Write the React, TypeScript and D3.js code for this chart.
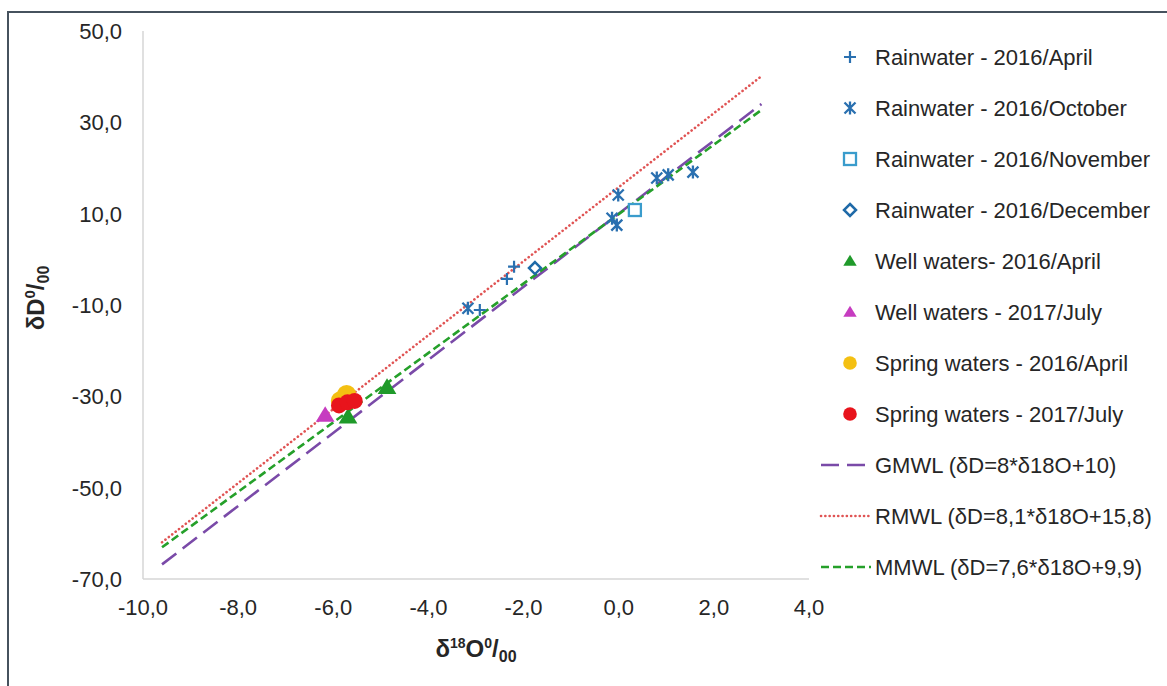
import React from "react";
import * as d3 from "d3";

// Isotope samples: [δ18O, δD] in per mil
const rainApril: [number, number][] = [[-2.92, -11.1], [-2.35, -4.3], [-2.2, -1.6]];
const rainOctober: [number, number][] = [
  [-3.17, -10.7], [-0.01, 14.1], [-0.14, 9.0], [-0.04, 7.5], [0.8, 17.8], [1.04, 18.5], [1.56, 19.1],
];
const rainNovember: [number, number][] = [[0.34, 10.8]];
const rainDecember: [number, number][] = [[-1.76, -1.9]];
const wellApril: [number, number][] = [[-4.87, -28.0], [-5.69, -34.5]];
const wellJuly: [number, number][] = [[-6.17, -34.1]];
const springApril: [number, number][] = [[-5.72, -29.6], [-5.85, -31.0]];
const springJuly: [number, number][] = [[-5.88, -32.0], [-5.7, -31.3], [-5.55, -31.0]];

// Meteoric water lines δD = a·δ18O + b, drawn over this δ18O span
const lineSpan = [-9.6, 3];
const gmwl = { a: 8, b: 10 };
const rmwl = { a: 8.1, b: 15.8 };
const mmwl = { a: 7.6, b: 9.9 };

const xTicks = [-10, -8, -6, -4, -2, 0, 2, 4];
const yTicks = [-70, -50, -30, -10, 10, 30, 50];

const legendLabels = [
  "Rainwater - 2016/April",
  "Rainwater - 2016/October",
  "Rainwater - 2016/November",
  "Rainwater - 2016/December",
  "Well waters- 2016/April",
  "Well waters - 2017/July",
  "Spring waters - 2016/April",
  "Spring waters - 2017/July",
  "GMWL (δD=8*δ18O+10)",
  "RMWL (δD=8,1*δ18O+15,8)",
  "MMWL (δD=7,6*δ18O+9,9)",
];

const W = 1167;
const H = 686;
const FONT = "'Liberation Sans', Arial, sans-serif";

const C = {
  rain: "#2a70b0",
  nov: "#3a9ccc",
  dec: "#1f6aa8",
  wellA: "#1f9a2a",
  wellJ: "#c63cc0",
  springA: "#f4c012",
  springJ: "#e8141c",
  gmwl: "#7a4aa8",
  rmwl: "#e05454",
  mmwl: "#25a02a",
  axis: "#d6d6d6",
  text: "#262626",
  frame: "#46525e",
};

const locale = d3.formatLocale({
  decimal: ",",
  thousands: ".",
  grouping: [3],
  currency: ["", ""],
  minus: "-",
});
const fmt = locale.format(".1f");

type MarkerKind = "plus" | "star" | "square" | "diamond" | "triangle" | "circle";

function Marker({ kind, color, x, y, size = 1 }: { kind: MarkerKind; color: string; x: number; y: number; size?: number }) {
  const t = `translate(${x},${y})`;
  switch (kind) {
    case "plus":
      return <path transform={t} d="M-6,0H6M0,-6V6" stroke={color} strokeWidth={2.2} fill="none" />;
    case "star":
      return (
        <path
          transform={t}
          d="M-5.5,-5.5L5.5,5.5M-5.5,5.5L5.5,-5.5M0,-6.5V6.5"
          stroke={color}
          strokeWidth={2.3}
          fill="none"
        />
      );
    case "square":
      return <rect transform={t} x={-6} y={-6} width={12} height={12} stroke={color} strokeWidth={2.3} fill="white" />;
    case "diamond":
      return <path transform={t} d="M0,-6L6,0L0,6L-6,0Z" stroke={color} strokeWidth={2.5} fill="white" />;
    case "triangle": {
      const s = 8.5 * size;
      return <path transform={t} d={`M0,${-s}L${s * 1.05},${s * 0.75}L${-s * 1.05},${s * 0.75}Z`} fill={color} />;
    }
    case "circle":
      return <circle cx={x} cy={y} r={8 * size} fill={color} />;
  }
}

export default function App() {
  const plot = { left: 143, right: 809, top: 31, bottom: 579 };
  const x = d3.scaleLinear().domain([-10, 4]).range([plot.left, plot.right]);
  const y = d3.scaleLinear().domain([-70, 50]).range([plot.bottom, plot.top]);

  const lineGen = d3
    .line<[number, number]>()
    .x((d) => x(d[0]))
    .y((d) => y(d[1]));
  const mwl = (p: { a: number; b: number }) =>
    lineGen(lineSpan.map((v) => [v, p.a * v + p.b] as [number, number])) || "";

  const series: { data: [number, number][]; kind: MarkerKind; color: string; size?: number }[] = [
    { data: rainApril, kind: "plus", color: C.rain },
    { data: rainOctober, kind: "star", color: C.rain },
    { data: rainNovember, kind: "square", color: C.nov },
    { data: rainDecember, kind: "diamond", color: C.dec },
    { data: wellApril, kind: "triangle", color: C.wellA, size: 1.05 },
    { data: wellJuly, kind: "triangle", color: C.wellJ, size: 1.05 },
    { data: springApril, kind: "circle", color: C.springA, size: 1.2 },
    { data: springJuly, kind: "circle", color: C.springJ, size: 1.0 },
  ];

  const lines = [
    { p: gmwl, color: C.gmwl, dash: "18 8", width: 2.6, round: false },
    { p: rmwl, color: C.rmwl, dash: "0.1 4.2", width: 2.6, round: true },
    { p: mmwl, color: C.mmwl, dash: "8 4", width: 2.6, round: false },
  ];

  const legendY0 = 57;
  const legendStep = 51;
  const legendMarkerX = 850;
  const legendTextX = 875;

  return (
    <svg
      width={W}
      height={H}
      style={{ position: "absolute", left: 0, top: 0, background: "white", fontFamily: FONT }}
    >
      <rect x={0} y={0} width={W} height={H} fill="white" />
      {/* outer frame, open on the right and bottom */}
      <rect x={8} y={12} width={W + 20} height={H + 20} fill="none" stroke={C.frame} strokeWidth={2} />

      {/* axes */}
      <line x1={plot.left} x2={plot.left} y1={plot.top} y2={plot.bottom} stroke={C.axis} strokeWidth={1.5} />
      <line x1={plot.left} x2={plot.right} y1={plot.bottom} y2={plot.bottom} stroke={C.axis} strokeWidth={1.5} />

      {yTicks.map((t) => (
        <text key={`y${t}`} x={122} y={y(t)} dy="0.36em" textAnchor="end" fontSize={22} fill={C.text}>
          {fmt(t)}
        </text>
      ))}
      {xTicks.map((t) => (
        <text key={`x${t}`} x={x(t)} y={615} textAnchor="middle" fontSize={22} fill={C.text}>
          {fmt(t)}
        </text>
      ))}

      {/* axis titles */}
      <text x={(plot.left + plot.right) / 2} y={657} textAnchor="middle" fontSize={24} fontWeight="bold" fill={C.text}>
        <tspan>δ</tspan>
        <tspan fontSize={14} dy={-9}>18</tspan>
        <tspan dy={9}>O</tspan>
        <tspan fontSize={14} dy={-9}>0</tspan>
        <tspan dy={9}>/</tspan>
        <tspan fontSize={16} dy={5}>00</tspan>
      </text>
      <text
        transform={`translate(44,298) rotate(-90)`}
        textAnchor="middle"
        fontSize={24}
        fontWeight="bold"
        fill={C.text}
      >
        <tspan>δD</tspan>
        <tspan fontSize={15} dy={-9}>0</tspan>
        <tspan dy={9}>/</tspan>
        <tspan fontSize={16} dy={5}>00</tspan>
      </text>

      {/* meteoric water lines */}
      {lines.map((l, i) => (
        <path
          key={`l${i}`}
          d={mwl(l.p)}
          fill="none"
          stroke={l.color}
          strokeWidth={l.width}
          strokeDasharray={l.dash}
          strokeLinecap={l.round ? "round" : "butt"}
        />
      ))}

      {/* samples */}
      {series.map((s, i) =>
        s.data.map((d, j) => (
          <Marker key={`p${i}-${j}`} kind={s.kind} color={s.color} x={x(d[0])} y={y(d[1])} size={s.size} />
        ))
      )}

      {/* legend */}
      {legendLabels.map((label, i) => {
        const ly = legendY0 + i * legendStep;
        let sample: React.ReactNode;
        if (i < series.length) {
          const s = series[i];
          const small = s.kind === "triangle" ? 0.75 : s.kind === "circle" ? 0.85 : 1;
          sample = <Marker kind={s.kind} color={s.color} x={legendMarkerX} y={ly} size={small} />;
        } else {
          const l = lines[i - series.length];
          sample = (
            <line
              x1={821}
              x2={871}
              y1={ly}
              y2={ly}
              stroke={l.color}
              strokeWidth={l.width}
              strokeDasharray={l.dash}
              strokeLinecap={l.round ? "round" : "butt"}
            />
          );
        }
        return (
          <g key={`lg${i}`}>
            {sample}
            <text x={legendTextX} y={ly} dy="0.36em" fontSize={22} fill={C.text}>
              {label}
            </text>
          </g>
        );
      })}
    </svg>
  );
}
